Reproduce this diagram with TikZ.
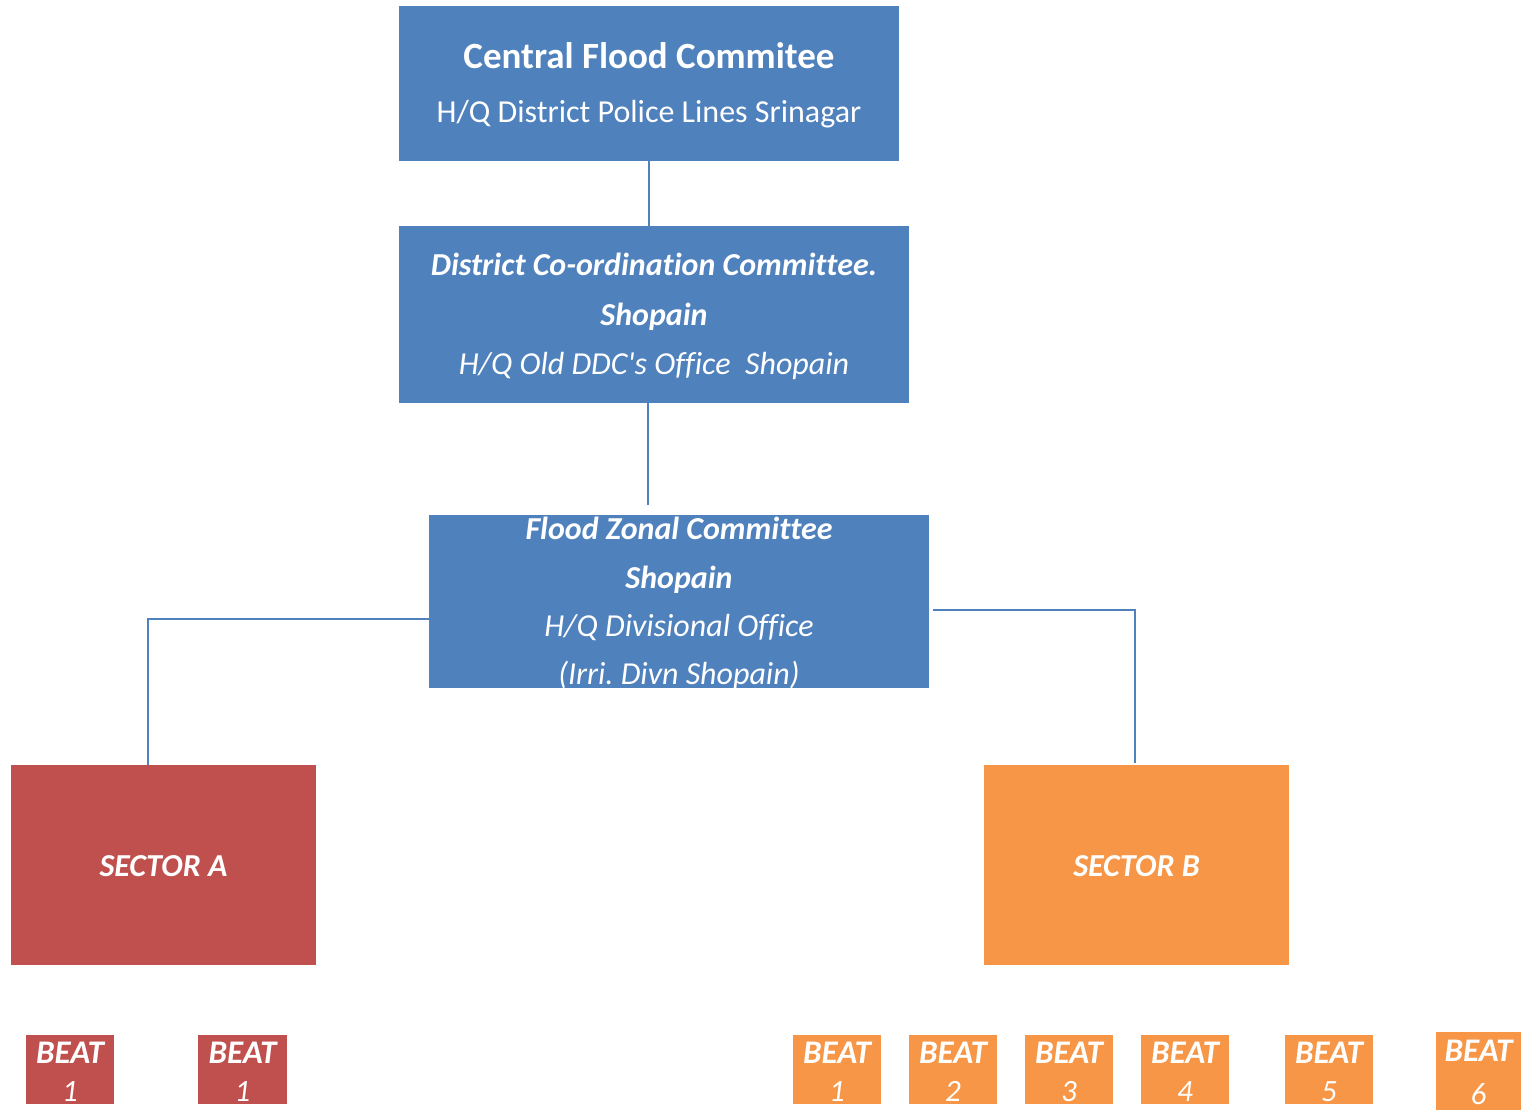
\documentclass[tikz,border=0pt]{standalone}
\usepackage{fontspec}
\setmainfont{Carlito}[Ligatures={NoCommon}]
\frenchspacing
\begin{document}
\begin{tikzpicture}[x=1pt,y=-1pt,
  box/.style={draw=none,inner sep=0pt,outer sep=0pt},
  blue/.style={box,fill=boxblue},
  red/.style={box,fill=boxred},
  orng/.style={box,fill=boxorange},
  txt/.style={text=white,inner sep=0pt,anchor=base},
  conn/.style={draw=lineblue,line width=1.5pt},
  titlet/.style={font=\fontsize{37}{40}\selectfont\bfseries},
  regt/.style={font=\fontsize{32}{36}\selectfont},
  bit/.style={font=\fontsize{32}{36}\selectfont\bfseries\itshape},
  it/.style={font=\fontsize{32}{36}\selectfont\itshape},
  beatt/.style={font=\fontsize{33}{36}\selectfont\bfseries\itshape},
  numt/.style={font=\fontsize{31}{36}\selectfont\itshape},
]
\definecolor{boxblue}{HTML}{4F81BD}
\definecolor{boxred}{HTML}{C0504D}
\definecolor{boxorange}{HTML}{F79646}
\definecolor{lineblue}{HTML}{4F81BD}
\useasboundingbox (0,0) rectangle (1521,1110);
\fill[white] (0,0) rectangle (1521,1110);

% boxes
\path[blue] (399,6) rectangle (899,161);
\node[box,minimum width=500pt,minimum height=155pt] (cfc) at (649,83.5) {};
\path[blue] (399,226) rectangle (909,403);
\node[box,minimum width=510pt,minimum height=177pt] (dcc) at (654,314.5) {};
\path[blue] (429,515) rectangle (929,688);
\node[box,minimum width=500pt,minimum height=173pt] (fzc) at (679,601.5) {};
\path[red] (11,765) rectangle (316,965);
\node[box,minimum width=305pt,minimum height=200pt] (sa) at (163.5,865) {};
\path[orng] (984,765) rectangle (1289,965);
\node[box,minimum width=305pt,minimum height=200pt] (sb) at (1136.5,865) {};

% texts
\node[txt,titlet] at (649,69) {Central Flood Commitee};
\node[txt,regt] at (649,123) {H/Q District Police Lines Srinagar};
\node[txt,bit] at (654,276) {District Co-ordination Committee.};
\node[txt,bit] at (654,325) {Shopain};
\node[txt,it] at (654,374) {H/Q Old DDC\textquotesingle s Office\ \ Shopain};
\node[txt,bit] at (679,539) {Flood Zonal Committee};
\node[txt,bit] at (679,588) {Shopain};
\node[txt,it] at (679,636) {H/Q Divisional Office};
\node[txt,it] at (679,684) {(Irri. Divn Shopain)};
\node[txt,bit] at (163.5,876) {SECTOR A};
\node[txt,bit] at (1136.5,876) {SECTOR B};

% beats
\foreach \nm/\x/\w/\c/\n/\y/\h/\ya/\yb in {ba1/26/88/red/1/1035/69/1063/1101, ba2/198/89/red/1/1035/69/1063/1101,
  bb1/793/88/orng/1/1035/69/1063/1101, bb2/909/88/orng/2/1035/69/1063/1101, bb3/1025/88/orng/3/1035/69/1063/1101,
  bb4/1141/88/orng/4/1035/69/1063/1101, bb5/1285/88/orng/5/1035/69/1063/1101, bb6/1436/85/orng/6/1032/78/1061/1104}{
  \path[\c] (\x,\y) rectangle ++(\w,\h);
  \node[box,minimum width=\w pt,minimum height=\h pt,anchor=north west] (\nm) at (\x,\y) {};
  \node[txt,beatt] at (\nm.north |- 0,\ya) {BEAT};
  \node[txt,numt] at (\nm.north |- 0,\yb) {\n};
}

% connectors
\draw[conn] (cfc.south) -- (dcc.north -| cfc.south);
\coordinate (fzctop) at (648,505);
\draw[conn] (dcc.south -| fzctop) -- (fzctop);
\coordinate (la) at (148,619);
\draw[conn] (fzc.west |- la) -- (la) -- (sa.north -| la);
\coordinate (rb) at (1135,610);
\coordinate (rs) at (933,610);
\draw[conn] (rs) -- (rb) -- ([yshift=2pt]sb.north -| rb);
\end{tikzpicture}
\end{document}
